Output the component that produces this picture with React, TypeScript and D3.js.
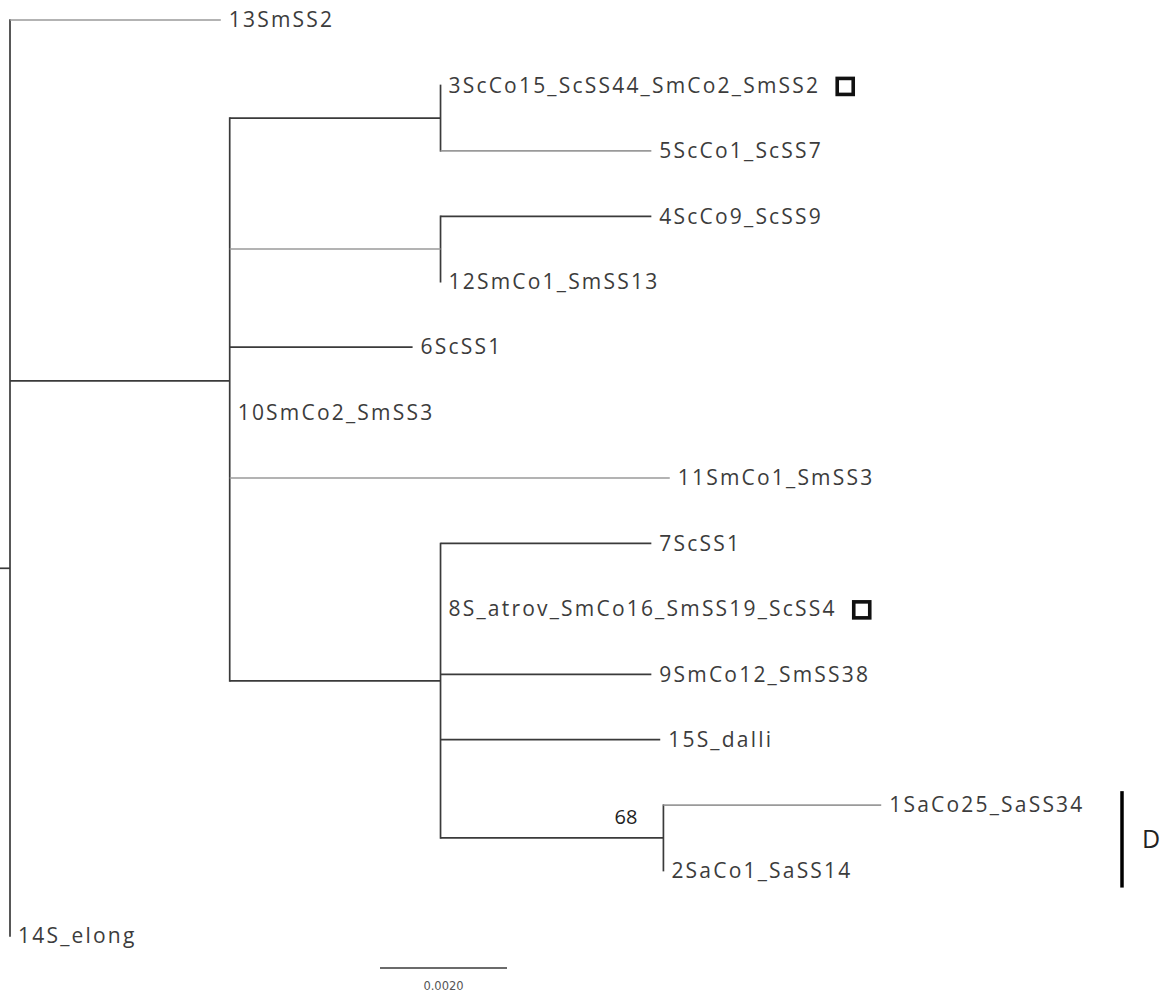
import React, { useEffect, useRef } from "react";
import * as d3 from "d3";

// ---- Tree data (preorder, display order) ----
const nodeIds = [
  "root",
  "13SmSS2",
  "A",
  "B",
  "3ScCo15_ScSS44_SmCo2_SmSS2",
  "5ScCo1_ScSS7",
  "C",
  "4ScCo9_ScSS9",
  "12SmCo1_SmSS13",
  "6ScSS1",
  "10SmCo2_SmSS3",
  "11SmCo1_SmSS3",
  "D",
  "7ScSS1",
  "8S_atrov_SmCo16_SmSS19_ScSS4",
  "9SmCo12_SmSS38",
  "15S_dalli",
  "E",
  "1SaCo25_SaSS34",
  "2SaCo1_SaSS14",
  "14S_elong",
];
const parentIds = [
  "", "root", "root", "A", "B", "B", "A", "C", "C", "A", "A", "A", "A",
  "D", "D", "D", "D", "D", "E", "E", "root",
];
const branchLengths = [
  0, 0.00332, 0.00346, 0.00332, 0, 0.00332, 0.00332, 0.00332, 0, 0.00288, 0,
  0.00693, 0.00332, 0.00332, 0, 0.00332, 0.00346, 0.00351, 0.00343, 0, 0,
];
// branches drawn in light grey
const greyBranches = ["13SmSS2", "5ScCo1_ScSS7", "C", "11SmCo1_SmSS3", "1SaCo25_SaSS34"];
// bootstrap support
const supportNodes = ["E"];
const supportValues = [68];
// marked taxa (open squares)
const markedTaxa = ["3ScCo15_ScSS44_SmCo2_SmSS2", "8S_atrov_SmCo16_SmSS19_ScSS4"];
// clade bar
const cladeName = "D";
const cladeTaxa = ["1SaCo25_SaSS34", "2SaCo1_SaSS14"];
// scale bar
const scaleBarLength = 0.002;
const scaleBarLabel = "0.0020";
// root stem position in tip-index units
const rootStemTipIndex = 8.38;

const W = 1160;
const H = 998;
const FONT = "'Open Sans', sans-serif";

export default function App() {
  const ref = useRef<SVGSVGElement>(null);

  useEffect(() => {
    const svg = d3.select(ref.current);
    svg.selectAll("*").remove();

    const rows = nodeIds.map((id, i) => ({ id, parent: parentIds[i] || null, len: branchLengths[i] }));
    const root = d3.stratify<any>().id((d) => d.id).parentId((d) => d.parent)(rows);

    root.each((n: any) => {
      n.dist = n.parent ? n.parent.dist + n.data.len : 0;
    });

    const x = d3.scaleLinear().domain([0, scaleBarLength]).range([10, 137]);
    const leaves = root.leaves();
    const yTip = d3.scalePoint<string>().domain(leaves.map((l) => l.id as string)).range([20, 936]);
    const yIdx = d3.scaleLinear().domain([0, leaves.length - 1]).range([20, 936]);

    root.eachAfter((n: any) => {
      if (!n.children) n.y = yTip(n.id);
      else n.y = d3.mean(n.children, (c: any) => c.y);
      n.x = x(n.dist);
    });

    const dark = "#3a3a3a";
    const grey = "#9a9a9a";
    const g = svg.append("g");

    // root stem
    g.append("line")
      .attr("x1", 0).attr("x2", x(0))
      .attr("y1", yIdx(rootStemTipIndex)).attr("y2", yIdx(rootStemTipIndex))
      .attr("stroke", dark).attr("stroke-width", 1.7);

    // verticals
    root.descendants().forEach((n: any) => {
      if (n.children) {
        const ys = n.children.map((c: any) => c.y);
        g.append("line")
          .attr("x1", n.x).attr("x2", n.x)
          .attr("y1", d3.min(ys) - 0.8).attr("y2", d3.max(ys) + 0.8)
          .attr("stroke", dark).attr("stroke-width", 1.7);
      }
    });
    // horizontals
    root.descendants().forEach((n: any) => {
      if (!n.parent || n.data.len === 0) return;
      g.append("line")
        .attr("x1", n.parent.x).attr("x2", n.x)
        .attr("y1", n.y).attr("y2", n.y)
        .attr("stroke", greyBranches.includes(n.id) ? grey : dark)
        .attr("stroke-width", 1.7);
    });

    // labels
    leaves.forEach((n: any) => {
      const t = g.append("text")
        .attr("x", n.x + 8).attr("y", n.y)
        .attr("dy", "0.35em")
        .attr("font-family", FONT).attr("font-size", 21)
        .attr("letter-spacing", 2.2)
        .attr("fill", "#3c3c3c")
        .text(n.id);
      if (markedTaxa.includes(n.id)) {
        const w = (t.node() as SVGTextElement).getComputedTextLength();
        g.append("rect")
          .attr("x", n.x + 8 + w + 17).attr("y", n.y - 7)
          .attr("width", 16).attr("height", 16)
          .attr("fill", "none").attr("stroke", "#111").attr("stroke-width", 3.6);
      }
    });

    // support values
    root.descendants().forEach((n: any) => {
      const k = supportNodes.indexOf(n.id);
      if (k >= 0) {
        g.append("text")
          .attr("x", n.x - 26).attr("y", n.y - 14)
          .attr("text-anchor", "end")
          .attr("font-family", "'Open Sans', sans-serif").attr("font-size", 20)
          .attr("fill", "#222")
          .text(supportValues[k]);
      }
    });

    // clade bar
    const cy = cladeTaxa.map((id) => yTip(id) as number);
    const barX = 1122;
    g.append("line")
      .attr("x1", barX).attr("x2", barX)
      .attr("y1", d3.min(cy)! - 14).attr("y2", d3.max(cy)! + 17)
      .attr("stroke", "#000").attr("stroke-width", 3.5);
    g.append("text")
      .attr("x", barX + 20).attr("y", (d3.min(cy)! + d3.max(cy)!) / 2 + 1)
      .attr("dy", "0.35em")
      .attr("font-family", "'Open Sans', sans-serif").attr("font-size", 25)
      .attr("fill", "#222")
      .text(cladeName);

    // scale bar
    const sbX0 = 380;
    const sbY = 968;
    const sbW = x(scaleBarLength) - x(0);
    g.append("line")
      .attr("x1", sbX0).attr("x2", sbX0 + sbW)
      .attr("y1", sbY).attr("y2", sbY)
      .attr("stroke", dark).attr("stroke-width", 1.7);
    g.append("text")
      .attr("x", sbX0 + sbW / 2).attr("y", sbY + 22)
      .attr("text-anchor", "middle")
      .attr("font-family", "'DejaVu Sans', sans-serif").attr("font-size", 11.5)
      .attr("fill", "#555")
      .text(scaleBarLabel);
  }, []);

  return (
    <svg
      ref={ref}
      width={W}
      height={H}
      style={{ position: "absolute", left: 0, top: 0, background: "#fff", display: "block" }}
    />
  );
}
